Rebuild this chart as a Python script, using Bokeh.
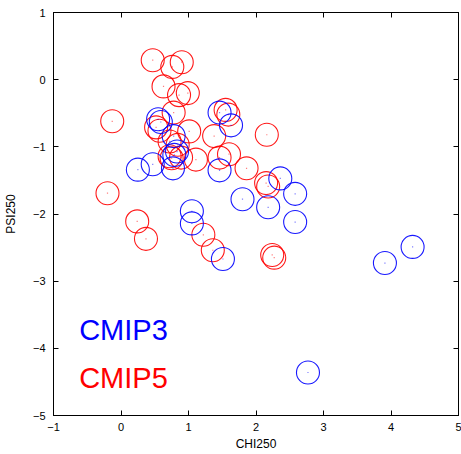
from bokeh.plotting import figure
from bokeh.models import LinearAxis, FixedTicker, Range1d, ColumnDataSource, Label, CustomJSTickFormatter
from bokeh.embed import file_html
from bokeh.resources import INLINE

# CMIP3 models (blue)
cmip3_chi = [0.25, 0.47, 0.77, 0.83, 0.79, 0.78, 0.55, 0.59, 1.46, 1.63, 1.46,
             1.80, 2.18, 2.36, 2.58, 2.58, 1.05, 1.05, 1.51, 3.91, 4.32, 2.77]
cmip3_psi = [-1.34, -1.26, -1.32, -1.07, -1.12, -0.84, -0.59, -0.63, -0.49, -0.68, -1.35,
             -1.78, -1.90, -1.47, -1.70, -2.12, -1.96, -2.14, -2.67, -2.73, -2.49, -4.36]

# CMIP5 models (red)
cmip5_chi = [0.47, 0.76, 0.90, 0.63, 0.86, 0.99, -0.13, 0.78, 0.52, 0.57, 1.01,
             0.72, 0.84, 0.72, 0.75, 0.89, 1.11, 1.38, 1.55, 1.59, 2.16, 1.46,
             1.60, 1.86, 2.15, 2.18, 1.22, 1.36, 2.24, 2.27, -0.20, 0.24, 0.37]
cmip5_psi = [0.29, 0.19, 0.26, -0.10, -0.23, -0.20, -0.62, -0.49, -0.71, -0.76, -0.77,
             -0.92, -0.97, -1.14, -1.17, -1.16, -1.19, -0.84, -0.45, -0.52, -0.82, -1.16,
             -1.11, -1.32, -1.54, -1.59, -2.31, -2.54, -2.61, -2.65, -1.69, -2.11, -2.37]

x_ticks = [-1, 0, 1, 2, 3, 4, 5]
y_ticks = [-5, -4, -3, -2, -1, 0, 1]

FONT = "Liberation Sans"

p = figure(width=461, height=454, output_backend="svg", toolbar_location=None,
           x_range=Range1d(-1, 5), y_range=Range1d(-5, 1),
           min_border_left=52, min_border_top=12, min_border_right=3, min_border_bottom=39,
           x_axis_label="CHI250", y_axis_label="PSI250")
p.grid.visible = False
p.outline_line_color = "black"
p.outline_line_width = 1
p.outline_line_alpha = 1.0
p.background_fill_color = "white"
p.border_fill_color = "white"

for ax in (p.xaxis[0], p.yaxis[0]):
    ax.major_tick_in = 5
    ax.major_tick_out = 0
    ax.minor_tick_in = 0
    ax.minor_tick_out = 0
    ax.axis_line_color = "black"
    ax.major_tick_line_color = "black"
    ax.major_label_text_font = FONT
    ax.major_label_text_font_size = "11px"
    ax.major_label_text_color = "black"
    ax.axis_label_text_font = FONT
    ax.axis_label_text_font_size = "12px"
    ax.axis_label_text_font_style = "normal"
    ax.axis_label_text_color = "black"
p.xaxis[0].ticker = FixedTicker(ticks=x_ticks)
p.yaxis[0].ticker = FixedTicker(ticks=y_ticks)
p.xaxis[0].major_label_standoff = 7
p.xaxis[0].axis_label_standoff = 3
p.yaxis[0].major_label_standoff = 8
p.yaxis[0].axis_label_standoff = 12

blank = CustomJSTickFormatter(code="return ''")
top = LinearAxis(ticker=FixedTicker(ticks=x_ticks), formatter=blank)
right = LinearAxis(ticker=FixedTicker(ticks=y_ticks), formatter=blank)
for ax in (top, right):
    ax.major_tick_in = 5
    ax.major_tick_out = 0
    ax.minor_tick_in = 0
    ax.minor_tick_out = 0
    ax.axis_line_color = "black"
    ax.major_tick_line_color = "black"
    ax.major_label_text_font_size = "1px"
    ax.major_label_standoff = 0
p.add_layout(top, "above")
p.add_layout(right, "right")

src3 = ColumnDataSource(dict(x=cmip3_chi, y=cmip3_psi))
src5 = ColumnDataSource(dict(x=cmip5_chi, y=cmip5_psi))

for src, col in ((src5, "#ff0000"), (src3, "#0000ff")):
    p.scatter("x", "y", source=src, marker="circle", size=23, fill_color=None,
              line_color=col, line_width=1.1, line_alpha=0.9)
    p.scatter("x", "y", source=src, marker="square", size=1.2, fill_color=col,
              line_color=None, fill_alpha=0.5)

p.add_layout(Label(x=-0.62, y=-3.72, text="CMIP3", text_color="#0000ff",
                   text_font=FONT, text_font_size="29px", text_baseline="alphabetic"))
p.add_layout(Label(x=-0.62, y=-4.435, text="CMIP5", text_color="#ff0000",
                   text_font=FONT, text_font_size="29px", text_baseline="alphabetic"))

open("out.html", "w").write(file_html(p, INLINE))
